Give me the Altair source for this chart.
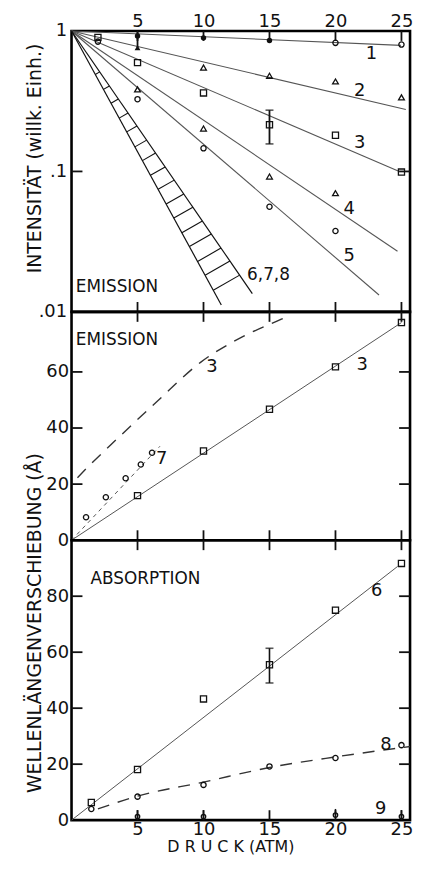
import altair as alt
import pandas as pd
import math

FONT = "DejaVu Sans"
W, H1, H2, H3 = 341, 283, 230, 282
XMAX = 25.65
x_ticks = [5, 10, 15, 20, 25]

# ---------------- top panel: Intensität (log) ----------------
top_line_series = ["1", "2", "3", "4", "5"]
top_line_start_x = [0, 0, 0, 0, 0]
top_line_start_y = [1, 1, 1, 1, 1]
top_line_end_x = [24.96, 25.33, 24.84, 24.7, 23.3]
top_line_end_y = [0.79, 0.276, 0.100, 0.027, 0.0132]

band_edges = ["lower", "upper"]
band_end_x = [11.35, 13.7]
band_end_y = [0.0112, 0.0135]
hatch_left_x = [1.8, 2.42, 2.99, 3.61, 4.18, 4.80, 5.37, 5.98, 6.56, 7.17,
                7.75, 8.36, 8.93, 9.55, 10.12, 10.74]
hatch_stretch = 1.186

top_sq_x = [2, 5, 10, 15, 20, 25]
top_sq_y = [0.90, 0.595, 0.362, 0.215, 0.181, 0.099]
top_tri_x = [10, 15, 20, 25, 5, 10, 15, 20]
top_tri_y = [0.549, 0.48, 0.437, 0.337, 0.384, 0.202, 0.092, 0.070]
top_tri_filled_x = [5]
top_tri_filled_y = [0.76]
top_circ_x = [2, 5, 10, 15, 20, 20, 25]
top_circ_y = [0.84, 0.327, 0.146, 0.056, 0.0377, 0.823, 0.80]
top_dot_x = [5, 10, 15]
top_dot_y = [0.92, 0.893, 0.855]
top_err_x = [5, 15]
top_err_lo = [0.76, 0.157]
top_err_hi = [0.98, 0.273]
top_cap_x = [15, 15]
top_cap_y = [0.157, 0.273]

top_lab_text = ["1", "2", "3", "4", "5", "6,7,8", "EMISSION"]
top_lab_x = [22.3, 21.4, 21.4, 20.6, 20.6, 13.3, 0.32]
top_lab_y = [0.68, 0.376, 0.158, 0.0537, 0.0251, 0.0182, 0.0150]
top_lab_size = [18, 18, 18, 18, 18, 17, 17]

# ---------------- middle panel: Emission shift ----------------
mid_sq_x = [5, 10, 15, 20, 25]
mid_sq_y = [15.9, 31.8, 46.7, 61.8, 77.6]
mid_circ_x = [1.1, 2.6, 4.1, 5.25, 6.1]
mid_circ_y = [8.2, 15.3, 22.1, 27.0, 31.2]
mid_line3_x = [0, 25]
mid_line3_y = [0, 77.6]
mid_line7_x = [0, 6.7]
mid_line7_y = [0, 33.5]
mid_curve3_x = [0.45, 1.3, 3.0, 6.6, 9.8, 12.9, 15.9, 16.6]
mid_curve3_y = [22.3, 26.4, 34.1, 50.0, 63.5, 72.4, 78.8, 80.3]
mid_lab_text = ["EMISSION", "3", "3", "7"]
mid_lab_x = [0.32, 10.2, 21.6, 6.4]
mid_lab_y = [71.2, 61.8, 62.3, 28.8]
mid_lab_size = [17, 18, 18, 18]

# ---------------- bottom panel: Absorption shift ----------------
bot_sq_x = [1.5, 5, 10, 15, 20, 25]
bot_sq_y = [6.3, 18.1, 43.3, 55.5, 75.0, 91.7]
bot_circ_x = [1.5, 5, 10, 15, 20, 25]
bot_circ_y = [4.0, 8.4, 12.6, 19.2, 22.2, 26.8]
bot_line6_x = [0, 24.7]
bot_line6_y = [0, 90.6]
bot_curve8_x = [2.0, 5, 10, 15, 20, 25.65]
bot_curve8_y = [4.0, 8.6, 13.6, 18.8, 22.6, 26.3]
bot_s9_x = [5, 10, 20, 25]
bot_s9_y = [1.3, 1.3, 1.8, 1.3]
bot_s9_top = [3.6, 3.6, 4.0, 3.6]
bot_err_x = [15]
bot_err_lo = [49.0]
bot_err_hi = [61.4]
bot_cap_x = [15, 15]
bot_cap_y = [49.0, 61.4]
bot_lab_text = ["ABSORPTION", "6", "8", "9"]
bot_lab_x = [1.44, 22.7, 23.4, 23.0]
bot_lab_y = [86.2, 82.0, 27.0, 4.1]
bot_lab_size = [17, 18, 18, 18]

INK = "#111"
LINE = "#555"

xsc = alt.Scale(domain=[0, XMAX], nice=False, zero=False)
ysc1 = alt.Scale(type="log", domain=[0.01, 1], nice=False)
ysc2 = alt.Scale(domain=[0, 81.4], nice=False, zero=False)
ysc3 = alt.Scale(domain=[0, 100], nice=False, zero=False)

common = dict(labelFont=FONT, labelFontSize=18, labelColor=INK, titleFont=FONT,
              titleColor=INK, titleFontWeight="normal", ticks=False, domain=False,
              grid=False, labelFlush=False)

ax_top_x = alt.Axis(orient="top", values=x_ticks, labelPadding=0, title=None,
                    minExtent=0, maxExtent=19, **common)
ax_top_y = alt.Axis(values=[1, 0.1, 0.01], labelPadding=5,
                    labelExpr="datum.value >= 1 ? '1' : (datum.value > 0.05 ? '.1' : '.01')",
                    title="INTENSITÄT  (willk. Einh.)", titleAngle=270, titleX=-37, titleY=128,
                    titleAlign="center", titleBaseline="middle", titleFontSize=19, **common)
ax_mid_y = alt.Axis(values=[0, 20, 40, 60], labelPadding=3, title=None, **common)
ax_bot_x = alt.Axis(orient="bottom", values=x_ticks, labelPadding=0, minExtent=0, maxExtent=19,
                    title="D R U C K    (ATM)", titleX=160, titleY=27, titleAlign="center",
                    titleBaseline="middle", titleFontSize=16, **common)
ax_bot_y = alt.Axis(values=[0, 20, 40, 60, 80], labelPadding=3,
                    title="WELLENLÄNGENVERSCHIEBUNG   (Å)", titleAngle=270, titleX=-37, titleY=83,
                    titleAlign="center", titleBaseline="middle", titleFontSize=19, **common)


def make_panel(sc, xax, yax, h, ytick_vals):
    def X(field="x"):
        return alt.X(f"{field}:Q", scale=xsc, axis=xax)

    def Y(field="y"):
        return alt.Y(f"{field}:Q", scale=sc, axis=yax)

    def line(df, **kw):
        enc = dict(x=X(), y=Y())
        if "s" in df.columns:
            enc["detail"] = "s:N"
        return alt.Chart(df).mark_line(**kw).encode(**enc)

    def points(df, shape, filled, size):
        return alt.Chart(df).mark_point(shape=shape, filled=filled, size=size, color=INK,
                                        strokeWidth=1.3, opacity=1).encode(x=X(), y=Y())

    def rules(df, **kw):
        enc = dict(x=X(), y=Y(), y2="y2:Q")
        if "x2" in df.columns:
            enc["x2"] = "x2:Q"
        return alt.Chart(df).mark_rule(**kw).encode(**enc)

    def caps(df):
        return alt.Chart(df).mark_tick(orient="horizontal", size=8, thickness=1.6,
                                       color=INK).encode(x=X(), y=Y())

    def labels(df):
        return alt.Chart(df).mark_text(align="left", baseline="middle", font=FONT,
                                       color=INK).encode(
            x=X(), y=Y(), text="t:N", size=alt.Size("s:Q", scale=None, legend=None))

    def ticks():
        xt = pd.DataFrame({"t": x_ticks})
        yt = pd.DataFrame({"t": ytick_vals})
        return [
            alt.Chart(xt).mark_rule(color=INK, strokeWidth=1.8).encode(
                x=X("t"), y=alt.value(0), y2=alt.value(10)),
            alt.Chart(xt).mark_rule(color=INK, strokeWidth=1.8).encode(
                x=X("t"), y=alt.value(h - 10), y2=alt.value(h)),
            alt.Chart(yt).mark_rule(color=INK, strokeWidth=1.8).encode(
                y=Y("t"), x=alt.value(0), x2=alt.value(11)),
            alt.Chart(yt).mark_rule(color=INK, strokeWidth=1.8).encode(
                y=Y("t"), x=alt.value(W - 11), x2=alt.value(W)),
        ]

    return dict(line=line, points=points, rules=rules, caps=caps, labels=labels, ticks=ticks)


def seg_df(series, x0, y0, x1, y1):
    rows = []
    for s, a, b, c, d in zip(series, x0, y0, x1, y1):
        rows.append({"s": s, "x": a, "y": b})
        rows.append({"s": s, "x": c, "y": d})
    return pd.DataFrame(rows)


# ---------------- top chart ----------------
P = make_panel(ysc1, ax_top_x, ax_top_y, H1, [0.1])
tl = seg_df(top_line_series, top_line_start_x, top_line_start_y, top_line_end_x, top_line_end_y)
bl = seg_df(band_edges, [0, 0], [1, 1], band_end_x, band_end_y)
lo_slope = math.log10(band_end_y[0]) / band_end_x[0]
up_slope = math.log10(band_end_y[1]) / band_end_x[1]
hatch = pd.DataFrame({
    "x": hatch_left_x,
    "y": [10 ** (lo_slope * v) for v in hatch_left_x],
    "x2": [v * hatch_stretch for v in hatch_left_x],
    "y2": [10 ** (up_slope * v * hatch_stretch) for v in hatch_left_x],
})
top = alt.layer(
    P["line"](tl, color=LINE, strokeWidth=1.1),
    P["line"](bl, color=INK, strokeWidth=1.2),
    P["rules"](hatch, color=INK, strokeWidth=1.1),
    P["rules"](pd.DataFrame({"x": top_err_x, "y": top_err_lo, "y2": top_err_hi}), color=INK, strokeWidth=1.8),
    P["caps"](pd.DataFrame({"x": top_cap_x, "y": top_cap_y})),
    P["points"](pd.DataFrame({"x": top_sq_x, "y": top_sq_y}), "square", False, 38),
    P["points"](pd.DataFrame({"x": top_tri_x, "y": top_tri_y}), "triangle-up", False, 34),
    P["points"](pd.DataFrame({"x": top_tri_filled_x, "y": top_tri_filled_y}), "triangle-up", True, 34),
    P["points"](pd.DataFrame({"x": top_circ_x, "y": top_circ_y}), "circle", False, 28),
    P["points"](pd.DataFrame({"x": top_dot_x, "y": top_dot_y}), "circle", True, 30),
    P["labels"](pd.DataFrame({"x": top_lab_x, "y": top_lab_y, "t": top_lab_text, "s": top_lab_size})),
    *P["ticks"](),
).properties(width=W, height=H1)

# ---------------- middle chart ----------------
P = make_panel(ysc2, None, ax_mid_y, H2, [20, 40, 60])
mid = alt.layer(
    P["line"](pd.DataFrame({"x": mid_line3_x, "y": mid_line3_y}), color=LINE, strokeWidth=1.0),
    P["line"](pd.DataFrame({"x": mid_line7_x, "y": mid_line7_y}), color=LINE, strokeWidth=1.0, strokeDash=[4, 4]),
    P["line"](pd.DataFrame({"x": mid_curve3_x, "y": mid_curve3_y}), color="#333", strokeWidth=1.4,
              strokeDash=[12, 9], interpolate="monotone"),
    P["points"](pd.DataFrame({"x": mid_sq_x, "y": mid_sq_y}), "square", False, 38),
    P["points"](pd.DataFrame({"x": mid_circ_x, "y": mid_circ_y}), "circle", False, 28),
    P["labels"](pd.DataFrame({"x": mid_lab_x, "y": mid_lab_y, "t": mid_lab_text, "s": mid_lab_size})),
    *P["ticks"](),
).properties(width=W, height=H2)

# ---------------- bottom chart ----------------
P = make_panel(ysc3, ax_bot_x, ax_bot_y, H3, [20, 40, 60, 80])
bot = alt.layer(
    P["line"](pd.DataFrame({"x": bot_line6_x, "y": bot_line6_y}), color=LINE, strokeWidth=1.0),
    P["line"](pd.DataFrame({"x": bot_curve8_x, "y": bot_curve8_y}), color="#333", strokeWidth=1.4,
              strokeDash=[12, 9], interpolate="monotone"),
    P["rules"](pd.DataFrame({"x": bot_err_x, "y": bot_err_lo, "y2": bot_err_hi}), color=INK, strokeWidth=1.6),
    P["caps"](pd.DataFrame({"x": bot_cap_x, "y": bot_cap_y})),
    P["rules"](pd.DataFrame({"x": bot_s9_x, "y": bot_s9_y, "y2": bot_s9_top}), color=INK, strokeWidth=1.5),
    P["points"](pd.DataFrame({"x": bot_s9_x, "y": bot_s9_y}), "circle", False, 20),
    P["points"](pd.DataFrame({"x": bot_sq_x, "y": bot_sq_y}), "square", False, 38),
    P["points"](pd.DataFrame({"x": bot_circ_x, "y": bot_circ_y}), "circle", False, 28),
    P["labels"](pd.DataFrame({"x": bot_lab_x, "y": bot_lab_y, "t": bot_lab_text, "s": bot_lab_size})),
    *P["ticks"](),
).properties(width=W, height=H3)

chart = alt.vconcat(top, mid, bot, spacing=0, bounds="flush").properties(
    padding={"left": 16, "top": 0, "right": 0, "bottom": 0},
    background="white",
).configure(font=FONT).configure_view(stroke="black", strokeWidth=2.6)

chart.save("out.html", embed_options={"renderer": "svg", "actions": False})
